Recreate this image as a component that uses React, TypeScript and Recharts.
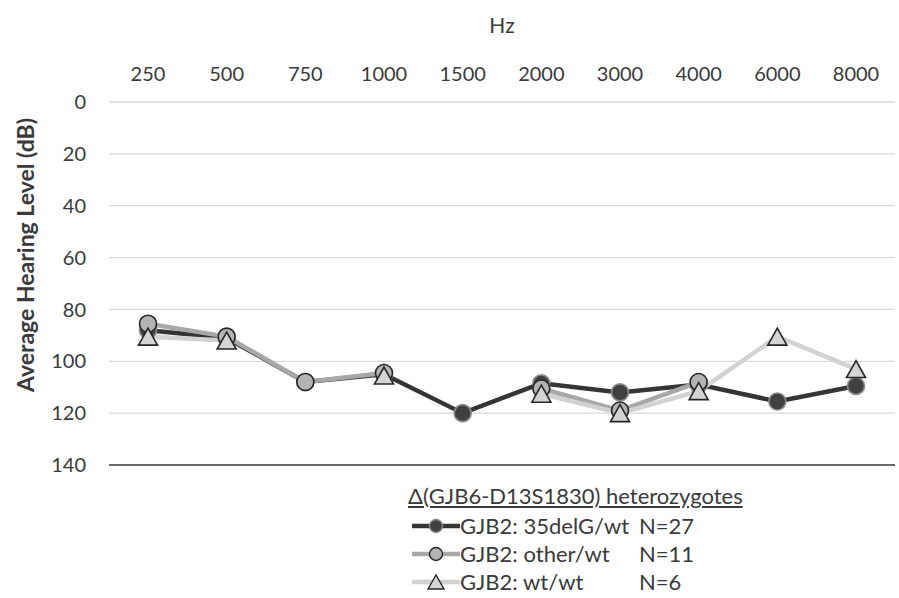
import React from 'react';
import { LineChart, Line, XAxis, YAxis, CartesianGrid, ReferenceLine } from 'recharts';

const frequencies = ['250', '500', '750', '1000', '1500', '2000', '3000', '4000', '6000', '8000'];
const delG35: (number | null)[] = [88, 91, 108, 105, 120, 108.5, 112, 109, 115.5, 109.5];
const otherWt: (number | null)[] = [85.5, 90.5, 108, 104.5, null, 110.5, 119, 108, null, null];
const wtWt: (number | null)[] = [90.5, 92, null, 105.5, null, 112.5, 120, 111.5, 90.5, 103];
const yTicks = [0, 20, 40, 60, 80, 100, 120, 140];

const seriesInfo = [
  { key: 'delG', label: 'GJB2: 35delG/wt', n: 'N=27' },
  { key: 'other', label: 'GJB2: other/wt', n: 'N=11' },
  { key: 'wt', label: 'GJB2: wt/wt', n: 'N=6' },
];

const data = frequencies.map((f, i) => ({ f, delG: delG35[i], other: otherWt[i], wt: wtWt[i] }));

const FONT = 'Lato, "Noto Sans", sans-serif';
const TEXT = '#3a3a3a';

const COLORS = {
  delG: { line: '#353535', fill: '#404040', stroke: '#8a8a8a' },
  other: { line: '#a8a8a8', fill: '#b4b4b4', stroke: '#262626' },
  wt: { line: '#d2d2d2', fill: '#d4d4d4', stroke: '#262626' },
};

const makeCircle = (fill: string, stroke: string) => (props: any) => {
  const { cx, cy, value, index } = props;
  if (cx == null || cy == null || value == null || Number.isNaN(cy)) return <g key={`e${index}`} />;
  return <circle key={`c${index}`} cx={cx} cy={cy} r={8.5} fill={fill} stroke={stroke} strokeWidth={1.6} />;
};

const triangleDot = (props: any) => {
  const { cx, cy, value, index } = props;
  if (cx == null || cy == null || value == null || Number.isNaN(cy)) return <g key={`e${index}`} />;
  const pts = `${cx},${cy - 8.5} ${cx - 9.5},${cy + 8.5} ${cx + 9.5},${cy + 8.5}`;
  return <polygon key={`t${index}`} points={pts} fill={COLORS.wt.fill} stroke={COLORS.wt.stroke} strokeWidth={1.6} strokeLinejoin="miter" />;
};

const LegendSample = ({ k }: { k: string }) => {
  const c = (COLORS as any)[k];
  return (
    <svg width={48} height={22} style={{ display: 'block' }}>
      <line x1={0} y1={11} x2={48} y2={11} stroke={c.line} strokeWidth={4.5} />
      {k === 'wt' ? (
        <polygon points="24,4 16,18 32,18" fill={c.fill} stroke={c.stroke} strokeWidth={1.4} />
      ) : (
        <circle cx={24} cy={11} r={6.5} fill={c.fill} stroke={c.stroke} strokeWidth={1.4} />
      )}
    </svg>
  );
};

export default function App() {
  return (
    <div style={{ position: 'absolute', left: 0, top: 0, width: 899, height: 598, background: '#fff', fontFamily: FONT, overflow: 'hidden' }}>
      <LineChart width={899} height={598} data={data} margin={{ top: 0, right: 4, left: 0, bottom: 133 }}>
        <CartesianGrid vertical={false} stroke="#d9d9d9" strokeWidth={1.3} />
        <XAxis
          dataKey="f"
          orientation="top"
          height={102}
          axisLine={false}
          tickLine={false}
          tickSize={0}
          tickMargin={21}
          interval={0}
          padding={{ left: 39, right: 39 }}
          tick={{ fill: TEXT, fontSize: 20, fontFamily: FONT }}
        />
        <YAxis
          reversed
          domain={[0, 140]}
          ticks={yTicks}
          width={109}
          axisLine={false}
          tickLine={false}
          tickSize={0}
          tickMargin={23}
          interval={0}
          tick={{ fill: TEXT, fontSize: 20, fontFamily: FONT }}
        />
        <ReferenceLine y={140} stroke="#404040" strokeWidth={1.6} />
        <Line dataKey="delG" stroke={COLORS.delG.line} strokeWidth={4.5} isAnimationActive={false}
          dot={makeCircle(COLORS.delG.fill, COLORS.delG.stroke)} activeDot={false} />
        <Line dataKey="other" stroke={COLORS.other.line} strokeWidth={4.5} isAnimationActive={false}
          dot={makeCircle(COLORS.other.fill, COLORS.other.stroke)} activeDot={false} />
        <Line dataKey="wt" stroke={COLORS.wt.line} strokeWidth={4.5} isAnimationActive={false}
          dot={triangleDot} activeDot={false} />
      </LineChart>

      <div style={{ position: 'absolute', left: 0, top: 11, width: 1004, textAlign: 'center', fontSize: 21, color: TEXT, lineHeight: '28px' }}>
        Hz
      </div>

      <div style={{ position: 'absolute', left: 25, top: 255, width: 0, height: 0 }}>
        <div style={{ position: 'absolute', transform: 'translate(-50%, -50%) rotate(-90deg)', whiteSpace: 'nowrap', fontSize: 23, fontWeight: 700, color: TEXT, lineHeight: '28px' }}>
          Average Hearing Level (dB)
        </div>
      </div>

      <div style={{ position: 'absolute', left: 408, top: 483, fontSize: 22, color: TEXT, lineHeight: '26px', textDecoration: 'underline', whiteSpace: 'nowrap' }}>
        Δ(GJB6-D13S1830) heterozygotes
      </div>
      {seriesInfo.map((s, i) => (
        <div key={s.key} style={{ position: 'absolute', left: 412, top: 513 + i * 28, height: 26, lineHeight: '26px', display: 'flex', alignItems: 'center', fontSize: 22, color: TEXT, whiteSpace: 'nowrap' }}>
          <LegendSample k={s.key} />
          <span style={{ display: 'inline-block', width: 179 }}>{s.label}</span>
          <span>{s.n}</span>
        </div>
      ))}
    </div>
  );
}
